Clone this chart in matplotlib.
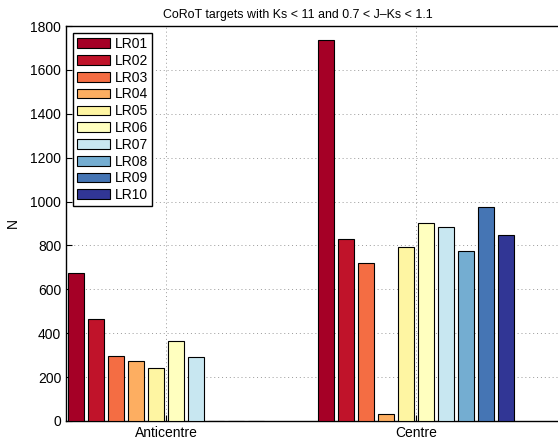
import matplotlib
matplotlib.use('Agg')
import matplotlib.pyplot as plt
import numpy as np

plt.rcParams['font.family'] = ['Liberation Sans', 'DejaVu Sans']

groups = ['Anticentre', 'Centre']
runs = ['LR01', 'LR02', 'LR03', 'LR04', 'LR05', 'LR06', 'LR07', 'LR08', 'LR09', 'LR10']
anticentre = [673, 463, 295, 272, 240, 363, 292, 0, 0, 0]
centre = [1736, 831, 719, 30, 794, 904, 883, 776, 977, 848]
colors = ['#a50026', '#c0132a', '#f46d43', '#fdae61', '#fef5a2',
          '#ffffbf', '#c8e7f1', '#74add1', '#4575b4', '#313695']

counts = np.array([anticentre, centre])
x = np.arange(1, len(groups) + 1)
n = len(runs)
step = 0.08

fig = plt.figure(figsize=(5.58, 4.42), dpi=100)
ax = fig.add_axes([66 / 558, 21 / 442, 500 / 558, 395 / 442])

for i in range(n):
    ax.bar(x + (i - (n - 1) / 2) * step, counts[:, i], width=0.066,
           color=colors[i], edgecolor='black', linewidth=0.8, label=runs[i], zorder=3)

ax.set_xlim(0.6, 2.6)
ax.set_ylim(0, 1800)
ax.set_xticks(x)
ax.set_xticklabels(groups)
ax.set_yticks(np.arange(0, 1801, 200))
ax.tick_params(direction='in', labelsize=10, length=4)
ax.grid(True, ls=(0, (1, 3)), color='#999999', lw=0.7, zorder=0)
for s in ax.spines.values():
    s.set_linewidth(1.0)

ax.set_ylabel('N', fontsize=10)
ax.yaxis.set_label_coords(-0.092, 0.5)
ax.set_title('CoRoT targets with Ks < 11 and 0.7 < J\u2013Ks < 1.1', fontsize=8.9,
             pad=6, x=0.464)

leg = ax.legend(loc='upper left', fontsize=10, handlelength=2.4, handleheight=0.7,
                borderaxespad=0.5, fancybox=False, edgecolor='black',
                framealpha=1, labelspacing=0.2, handletextpad=0.3, borderpad=0.3)
leg.get_frame().set_linewidth(1.0)

fig.savefig('out.png', dpi=100)
